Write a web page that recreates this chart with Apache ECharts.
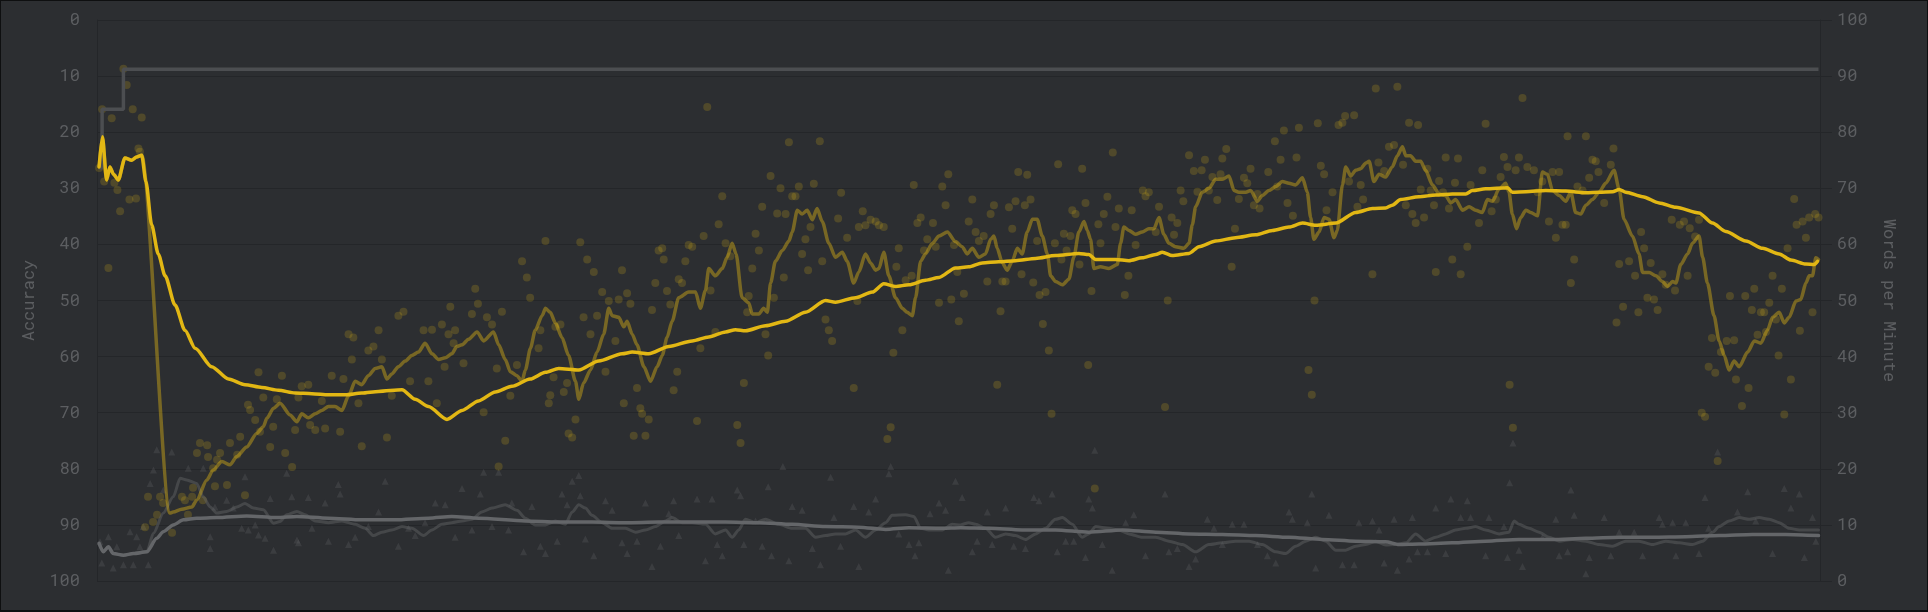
<!DOCTYPE html>
<html>
<head>
<meta charset="utf-8">
<script src="https://cdn.jsdelivr.net/npm/echarts@6/dist/echarts.min.js"></script>
<style>
html,body{margin:0;padding:0;background:#2c2e31;}
#wrap{position:relative;width:1928px;height:612px;}
#chart{position:absolute;left:0;top:0;width:1928px;height:612px;}
#frame{position:absolute;left:0;top:0;width:1928px;height:612px;box-sizing:border-box;border:1px solid #0e0f10;border-bottom-width:2px;pointer-events:none;}
</style>
</head>
<body>
<div id="wrap"><div id="chart"></div><div id="frame"></div></div>
<script>
// [test position, words per minute]
const wpmResults = [
[0.7,73.6],[1.7,84.1],[2.4,71.2],[3.8,55.8],[4.9,82.5],[5.8,71.0],[6.8,69.7],[7.7,65.9],[8.8,91.3],[9.9,88.4],[10.8,68.0],[11.9,84.1],[13.0,68.2],[13.8,77.1],[14.3,76.5],[14.9,82.6],
[16.0,9.6],[17.0,15.0],[18.7,10.5],[20.0,11.8],[21.0,15.0],[22.0,13.9],[25.0,8.6],[28.3,15.0],[29.3,14.4],[30.3,11.8],[31.7,15.0],[32.0,16.6],[33.3,22.8],[34.3,24.6],[35.3,14.4],[36.7,24.2],[37.0,22.1],[38.7,20.1],[39.3,16.9],[40.0,21.6],[41.0,22.8],[43.3,17.1],[44.3,24.6],[46.7,22.5],[47.7,25.7],[49.3,15.3],[50.3,31.4],[51.0,30.5],[52.7,28.7],[54.3,26.6],[57.7,23.9],[58.7,27.5],[62.7,22.8],[65.0,20.3],[66.0,26.9],
[53.8,37.2],[55.4,32.7],[59.9,32.4],[61.6,36.6],[67.1,32.7],[68.2,34.7],[70.4,35.0],[71.0,27.8],[72.7,26.9],[74.9,32.1],[76.0,27.2],[78.2,36.6],[81.0,26.6],[82.1,36.0],[83.8,44.0],[85.4,43.4],[84.9,39.5],[87.1,31.7],[88.2,24.0],[90.4,41.1],[92.1,41.8],[93.8,44.7],[94.9,39.5],[96.6,25.6],[98.2,33.0],[100.4,47.3],[102.1,48.0],[104.3,35.6],[108.8,44.7],[110.4,35.6],[111.6,44.8],[113.2,31.7],[114.9,45.7],[115.8,38.2],[117.1,44.0],[117.7,48.9],[119.3,44.7],[118.8,42.4],[122.1,38.8],[124.9,47.6],[126.0,52.1],[126.9,49.4],[128.8,30.1],[129.9,47.0],[131.6,45.7],[133.2,37.9],[134.9,48.0],[136.0,25.0],[133.8,20.4],[137.7,33.0],[139.9,38.5],[141.6,57.0],[143.2,54.1],[144.3,50.5],
[149.4,60.6],[147.7,44.7],[147.1,41.5],[152.7,45.3],[154.4,45.7],[151.0,33.1],[150.5,31.7],[155.5,33.7],[156.6,35.3],[152.1,36.3],[157.1,26.3],[158.3,25.6],[159.4,28.8],[161.0,60.4],[163.3,57.3],[165.5,55.1],[162.1,47.0],[164.4,44.0],[166.6,47.3],[168.3,51.5],[169.4,37.3],[170.5,49.9],[172.7,42.8],[173.8,50.2],[174.9,55.4],[176.6,51.3],[177.7,49.4],[175.5,31.7],[178.8,25.9],[179.9,34.4],[181.0,30.8],[181.6,29.8],[182.7,25.9],[183.8,28.8],[184.9,48.3],[186.0,53.1],[187.1,58.9],[188.3,59.3],[188.8,57.3],[189.9,51.7],[191.0,49.3],[192.1,34.0],[193.3,37.3],[193.8,53.8],[194.9,53.1],[196.0,57.0],[197.1,59.9],[198.3,59.6],[199.9,28.5],[201.0,41.5],[202.1,61.5],[203.3,84.5],[204.4,51.8],[206.0,44.4],[207.1,63.6],[208.3,68.6],[209.4,60.2],[211.0,57.9],[213.3,27.8],[214.4,24.6],[215.5,35.3],[216.6,47.9],[217.1,50.8],[218.3,55.7],[219.4,61.9],[220.5,58.9],[221.6,66.7],[222.7,44.0],[223.6,40.2],[224.4,72.2],[225.5,50.5],[226.6,65.5],[227.7,70.0],[228.8,54.1],[229.4,65.4],[230.5,78.2],[231.6,68.6],[232.7,68.6],[233.8,70.3],[234.9,58.3],[236.0,60.9],[236.9,55.4],[237.7,63.1],[238.8,70.8],[240.8,78.4],[241.6,57.0],[242.7,46.6],[243.8,44.7],[244.9,42.8],[246.9,64.6],[247.9,69.2],[249.9,61.2],[252.1,34.4],[253.3,49.9],[253.8,63.1],[255.1,65.9],[256.0,63.4],[257.7,64.4],[259.4,64.1],[260.5,63.4],[262.1,63.1],[263.3,25.3],[264.4,27.4],[265.3,40.7],[266.3,56.0],[267.1,59.3],[268.3,44.7],[269.4,53.6],[271.4,54.4],[272.1,70.6],[273.3,63.8],[274.4,64.8],[275.5,58.9],[276.6,60.9],[278.5,63.8],[279.4,59.6],[280.5,49.6],[281.6,70.3],[282.7,67.0],[283.6,72.5],[284.6,50.2],[285.5,59.9],[287.1,46.3],
[286.6,55.1],[288.8,51.2],[290.4,64.1],[291.6,68.0],[292.7,62.2],[293.8,60.6],[295.4,61.5],[296.6,53.4],[297.7,65.4],[298.8,67.0],[299.9,35.0],[301.0,48.1],[301.6,53.4],[302.7,53.4],[303.8,66.6],[304.9,62.8],[306.0,67.7],[306.9,72.9],[308.0,54.7],[309.1,67.0],[309.9,72.4],[311.0,68.0],[311.9,53.2],[313.2,60.6],[314.0,51.0],[315.1,45.8],[316.0,51.5],[317.1,41.1],[318.0,29.8],[319.1,60.2],[320.2,74.3],[321.3,57.3],[322.1,61.9],[323.0,58.9],[324.3,61.5],[324.9,66.1],[326.0,65.4],[327.3,56.4],[328.2,73.5],[329.3,67.4],[330.2,38.5],[331.3,51.7],[332.4,16.5],[333.6,63.6],[334.3,60.2],[335.4,65.4],[336.6,68.5],[338.4,76.4],[339.3,63.1],[340.4,66.4],[342.4,51.0],[343.6,54.4],[344.7,66.1],[346.0,59.9],[348.4,69.6],[349.3,68.6],[350.4,69.3],[352.7,62.2],[353.8,66.7],[355.8,31.0],[356.7,50.0],[358.0,64.8],[358.8,61.7],[359.9,63.8],[361.0,69.6],[361.9,67.7],[363.8,75.9],[365.4,73.1],[366.6,69.4],[368.0,73.2],[369.1,75.1],[370.4,69.6],[371.6,72.0],[373.2,67.9],[374.3,72.5],[374.9,75.3],[376.2,77.0],[378.0,56.0],[379.1,62.8],[380.4,68.1],[382.1,71.9],[383.2,70.9],[384.3,73.5],[385.4,67.0],[386.6,69.0],[387.3,66.4],[390.2,72.9],[392.4,78.4],[393.2,70.3],[394.3,75.1],[395.4,80.3],[396.6,67.4],[398.4,65.1],[399.6,75.5],[400.4,80.8],[403.6,37.6],[404.7,33.2],[405.6,50.0],[406.7,81.6],[407.7,74.0],[408.8,72.5],[409.6,66.1],[411.6,69.3],[413.6,81.3],[414.9,81.7],[415.8,82.9],[417.1,71.2],[418.8,83.0],[419.9,66.7],[421.0,70.6],[421.8,68.0],[424.9,54.7],[426.0,87.8],[426.9,74.6],[428.8,73.1],[430.4,77.4],
[432.1,77.7],[433.2,88.1],[435.1,74.2],[436.0,67.0],[437.1,81.7],[438.2,65.4],[439.3,63.8],[440.1,81.3],[441.0,69.8],[442.1,64.8],[443.2,73.5],[444.3,69.6],[445.4,67.0],[446.0,55.1],[447.1,71.3],[448.4,69.3],[449.3,75.5],[450.4,66.4],[451.5,57.3],[452.4,71.0],[453.4,75.3],[454.3,54.7],[456.5,59.6],[457.6,70.6],[460.4,63.8],[461.5,73.2],[462.6,81.5],[464.6,65.9],[466.0,68.0],[467.6,72.0],[468.7,75.6],[469.9,73.8],[470.6,35.0],[471.7,27.3],[472.6,73.2],[473.7,75.5],[474.9,86.1],[476.5,73.8],[478.7,73.2],[479.9,69.3],[481.5,71.2],[483.7,64.1],[484.9,72.9],[486.0,61.2],[487.1,72.9],[488.2,63.5],[489.3,63.5],[489.9,79.3],[491.0,53.1],[492.1,57.3],[493.2,70.3],[494.9,69.6],[496.0,79.3],[497.1,71.9],[498.2,75.1],[499.3,74.8],[500.2,72.9],[502.1,67.4],[504.3,74.2],[505.2,77.1],[506.2,46.1],[507.1,56.5],[508.4,48.9],[510.4,57.0],[512.4,54.4],[513.5,47.9],[514.4,62.2],[515.4,59.3],[516.5,50.5],[517.6,56.7],[518.7,50.2],[519.9,48.3],[521.5,54.7],[522.6,52.8],[524.6,64.4],[525.7,51.8],[527.3,63.5],[528.7,64.1],[529.9,54.4],[530.6,62.9],[532.4,61.4],[533.7,64.4],[534.6,30.0],[535.7,29.3],[536.9,38.2],[538.0,43.3],[539.1,37.1],[539.9,21.4],[541.0,40.8],[542.9,42.8],[544.0,50.8],[545.4,42.9],[546.0,35.9],[548.0,31.2],[549.1,50.8],[550.2,34.4],[551.3,48.3],[552.1,52.1],[553.2,43.9],[554.3,47.9],[555.4,47.9],[556.0,44.4],[557.1,49.6],[558.2,54.4],[559.3,46.6],[560.2,40.2],[561.3,52.1],[562.1,29.7],[563.2,59.3],[564.3,35.9],[565.4,68.1],[566.2,63.5],[567.3,44.6],[568.2,64.1],[569.3,61.2],[570.4,64.8],[571.5,47.9],[572.4,65.4],[573.5,64.8]
];

// [test position, accuracy %]
const accResults = [
[1,93.0],[3.8,92.1],[6.6,93.9],[1.6,96.8],[5.4,97.7],[8.8,97.1],[12.1,97.1],[11,91.2],[13.2,92.1],[14.3,93.9],[17.1,97.1],[15.4,90.3],[17.7,82.6],[18.8,80.2],[19.9,76.6],[24.9,77.0],[22.1,83.8],[30.4,79.9],[35.4,79.9],[37.7,92.1],[37.7,94.2],[39.3,86.8],[43.2,85.6],[45.4,87.0],[49.3,81.4],[48.2,90.6],[50.4,90.9],[52.7,90.0],[53.8,91.8],[56,92.4],[57.7,85.3],[58.8,94.5],[63.2,80.8],[64.9,85.0],[66.6,92.7],
[70.4,85.1],[76,86.1],[80.4,82.8],[81,84.5],[77.1,92.9],[83.8,93.5],[96,82.2],[100.4,93.8],[106,91.9],[112.7,86.1],[116,86.4],[121.6,83.5],[124.9,90.9],[127.7,84.5],[128.8,80.6],[131.6,90.3],[133.8,80.6],[137.1,90.9],[138.2,86.1],[142.1,94.8],[71.6,90.6],[86,92.2],[90.4,90.3],[93.8,87.7],[103.8,90.6],[109.3,89.6],[119.3,92.2],[67.1,93.2],
[144.9,86.7],[147.7,93.8],[149.4,95.1],[153.3,92.9],[154.9,84.5],[156.6,86.4],[158.3,82.2],[160.5,81.2],[161,84.8],[162.7,92.5],[165.5,95.5],[169.4,85.7],[171.6,87.4],[174.9,93.2],[176.6,95.1],[179.9,92.9],[182.7,86.1],[184.9,97.4],[187.7,93.8],[190.5,88.0],[192.1,85.7],[193.8,91.9],[199.9,85.4],[202.7,96.4],[204.9,85.4],[206.6,93.5],[208.3,95.5],[213.3,83.8],[214.4,84.8],[215.5,93.5],[219.4,89.3],[221.6,93.8],[223.6,83.2],[224.7,95.5],[228.5,79.6],[230.5,96.4],[231.6,86.7],[234.9,87.4],[238.3,94.2],[241,97.1],[244.4,81.5],[245.5,88.7],[247.7,93.8],[252.1,86.7],[253.8,97.4],[257.1,87.7],[259.4,85.4],[263.8,80.9],[264.4,79.6],[267.1,91.6],[270.5,93.5],[272.5,95.5],[273.8,93.2],[277.5,88.0],[280.5,86.1],[282.7,87.4],[283.6,98.1],[286,82.2],
[288.2,85.1],[291.6,94.8],[293.2,92.9],[296.6,87.7],[298.2,93.5],[302.7,87.0],[305.4,93.8],[309.3,94.2],[312.1,85.1],[313.8,85.7],[318.2,84.5],[319.9,94.8],[322.7,92.9],[325.4,92.9],[329.3,95.8],[330.4,85.4],[331.6,87.0],[332.4,76.7],[334.9,93.5],[338.2,98.1],[342.7,89.6],[345.4,88.2],[349.3,95.5],[355.8,84.5],[357.1,94.8],[359.9,94.2],[363.8,97.4],[366,96.1],[369.9,89.0],[372.1,90.6],[374.9,93.5],[378.2,89.9],[382.1,89.9],[386.6,93.5],[389.9,95.5],[392.7,96.8],[397.1,87.7],[398.2,89.0],[403.2,89.6],[404.7,84.5],[406,97.7],[410.4,88.3],[414.9,97.1],[418.8,97.1],[420.4,89.6],[424.9,89.3],[427.1,90.9],[428.8,96.8],
[432.1,89.0],[433.2,98.1],[437.1,96.1],[438.2,88.7],[439.9,94.8],[443.2,94.8],[446,87.0],[449.3,95.1],[451,85.4],[454.3,88.7],[456.5,85.7],[457.6,88.7],[462.6,95.5],[463.7,88.7],[468.7,90.3],[469.9,95.8],[470.6,82.5],[471.7,75.4],[473.7,94.5],[474.9,97.4],[481.5,92.2],[486,89.0],[487.1,95.5],[489.9,94.8],[491,83.8],[492.1,88.3],[496,98.7],[497.1,95.8],[502.1,88.7],[504.3,95.5],[507.1,91.3],[512.1,91.3],[514.9,95.5],[520.4,88.7],[521.5,89.9],[524.9,89.6],[526,95.5],[529.3,89.6],[533.7,95.1],[535.7,85.1],[536.9,90.6],[539.9,77.0],[546.5,87.7],[549.9,84.1],[552.6,89.3],[558.2,95.1],[562.1,83.5],[564.3,87.0],[567.1,84.5],[568.8,95.8],[571.5,88.7],[572.6,92.9]
];

// personal best (wpm)
const pbLine = [[0.7,73.6],[1.7,84.1],[8.8,91.2],[573.5,91.2]];

// moving averages
const wpmAvg10 = [
[0.7,73.8],[1.8,79.2],[3.2,71.5],[4.3,73.8],[5.5,72.5],[7.1,71.5],[9.3,75.4],[11.6,75.0],[13.2,75.6],[14.9,75.9],
[24.3,12.1],[25.4,12.3],[28.2,12.8],[31.6,13.2],[33.2,14.4],[36.6,18.0],[38.7,19.8],[41.6,21.3],[44.3,20.7],[46.6,22.2],[49.9,23.9],[53.2,26.3],[55.4,27.5],[56.6,29.0],[58.8,30.8],[61,31.7],[64.3,29.6],[66.6,28.4],
[68.2,29.8],[70.4,29.1],[72.7,29.8],[74.9,30.4],[77.1,31.1],[79.3,31.1],[81.6,30.4],[83.8,33.0],[86,35.6],[88.2,35.0],[90.4,36.6],[92.7,37.9],[94.9,38.2],[96.6,36.0],[98.2,36.9],[100.4,38.2],[102.7,39.2],[104.9,40.2],[107.1,40.8],[109.3,42.4],[111.6,40.5],[113.8,39.5],[116,39.8],[118.2,40.5],[119.9,41.8],[121.6,42.1],[123.8,43.1],[126.6,44.4],[128.8,42.8],[132.1,44.4],[133.8,42.1],[136,39.5],[137.7,37.3],[139.9,36.6],[141.6,35.6],
[142.7,37.6],[144.4,41.5],[146,44.7],[148.3,47.3],[149.4,48.6],[151,47.9],[152.7,46.0],[154.9,43.4],[157.1,40.2],[159.4,35.6],[160.5,32.4],[162.1,35.3],[164.4,37.6],[166.6,40.8],[168.8,44.0],[170.5,48.6],[171.6,47.3],[173.8,47.0],[175.5,45.3],[176.6,46.3],[178.3,44.0],[179.9,42.1],[182.2,38.2],[184.4,35.6],[186.6,38.2],[188.3,40.2],[189.9,43.4],[191.6,46.3],[193.8,50.5],[197.1,51.5],[199.4,51.5],[201,48.6],[202.7,51.8],[203.8,55.7],[206,54.4],[208.3,55.7],[209.9,57.7],[211.6,60.2],[212.9,58.3],[214.9,50.5],[217.1,49.6],[218.3,47.6],[220.5,47.6],[222.1,48.6],[223.3,47.9],[224.4,53.1],[226,57.0],[228.3,58.9],[230.5,60.6],[231.6,62.2],[233.3,66.1],[234.9,65.4],[236.6,66.1],[238.3,64.4],[239.9,66.4],[241.6,64.1],[243.8,60.2],[246,57.7],[248.3,58.6],[249.9,57.0],[252.1,53.1],[253.8,55.1],[256,58.3],[257.7,56.7],[259.4,55.4],[260.5,55.7],[262.1,58.6],[263.8,54.4],[266,50.5],[268.3,48.6],[269.9,47.9],[271.6,47.3],[272.7,50.5],[274.4,57.0],[276,58.3],[278.3,60.2],[280.5,61.5],[283.3,62.2],[286,60.5],
[288.2,59.6],[289.9,58.3],[291.6,59.3],[293.8,57.7],[296,58.3],[297.7,60.9],[298.8,61.5],[299.9,59.3],[301.6,56.7],[303.2,55.4],[304.9,57.0],[306.6,59.3],[308.2,58.3],[309.9,62.2],[311.6,64.5],[313.2,64.5],[314.9,61.5],[316.6,58.3],[317.7,54.4],[319.3,53.4],[321.6,52.8],[323.8,53.8],[325.4,57.7],[327.1,62.2],[328.8,64.1],[329.9,62.5],[331,60.9],[332.1,55.7],[334.3,56.0],[337.1,55.7],[339.9,56.4],[341,60.2],[342.1,63.1],[343.8,62.5],[346,61.8],[348.2,62.2],[350.4,62.8],[352.1,62.8],[353.8,64.8],[355.4,61.8],[357.1,60.2],[359.3,59.6],[362.1,59.3],[363.8,60.2],[364.9,63.5],[366,66.7],[368.2,69.3],[370.4,70.0],[372.7,71.6],[374.9,71.6],[377.1,72.2],[378.8,69.6],[380.4,69.3],[382.7,69.3],[384.3,69.6],[386.6,67.7],[388.2,68.7],[390.4,69.6],[392.7,70.3],[394.9,71.2],[397.1,70.9],[399.3,70.6],[401.6,71.9],[403.2,69.3],[404.3,64.8],[405.4,60.9],[407.1,62.2],[408.8,64.8],[410.4,64.5],[412.1,61.2],[413.2,62.5],[414.9,70.6],[416,73.8],[417.7,72.2],[419.3,73.2],[421,73.5],[422.7,74.5],[423.8,74.8],[425.4,71.2],[427.1,72.5],[429.3,72.0],
[431.5,73.8],[433.2,75.8],[434.9,77.4],[436,75.8],[437.6,75.8],[439.3,74.8],[441,74.8],[442.6,73.2],[444.9,70.6],[447.1,69.0],[449.3,68.7],[451,67.4],[452.6,68.0],[454.9,66.1],[457.1,66.7],[459.3,66.1],[461.5,65.7],[463.2,68.0],[464.9,67.7],[467.1,69.9],[469.3,70.9],[470.4,69.3],[471.5,65.4],[472.9,62.8],[474.3,64.8],[476,66.1],[477.6,65.7],[479.9,65.1],[481.5,72.9],[483.2,72.5],[484.9,69.6],[487.1,68.7],[489.3,67.7],[491,69.3],[492.6,65.7],[494.3,65.4],[496,67.0],[498.2,68.0],[500.4,69.3],[502.6,70.9],[505.4,73.2],[507.1,69.8],[508.7,64.5],[511.5,61.5],[513.7,58.3],[514.9,55.0],[517.1,55.0],[519.3,54.4],[521.5,53.4],[523.2,52.5],[524.9,53.4],[526,53.1],[527.6,56.4],[529.9,58.3],[531.5,60.2],[533.7,61.5],[534.9,57.7],[536.5,53.1],[538.7,47.3],[540.4,42.8],[542.1,40.2],[543.7,37.6],[545.4,39.2],[547.1,38.2],[549.9,40.8],[552.1,42.8],[554.3,42.4],[556.5,44.7],[558.2,47.0],[560.4,47.9],[562.1,46.0],[563.7,47.0],[566,49.9],[567.6,50.2],[569.3,53.1],[570.4,54.4],[571.5,54.4],[572.6,57.6],[573.5,57.3]
];

const wpmAvg100 = [
[0.7,73.8],[1.8,79.2],[3.2,71.5],[4.3,73.8],[5.5,72.5],[7.1,71.5],[9.3,75.4],[11.6,75.0],[13.2,75.6],[14.9,75.9],
[16.3,71.2],[18.2,63.5],[20.4,58.3],[22.7,54.4],[26,49.2],[29.3,44.7],[32.7,41.5],[38.2,38.2],[43.8,36.0],[49.3,35.0],[54.9,34.5],[60.4,34.0],[66,33.5],[71.6,33.4],[77.1,33.2],[82.7,33.2],[88.2,33.5],[93.8,33.8],[101.6,34.1],[106,32.4],[110.4,31.1],[116.6,28.8],[121.6,30.4],[127.1,32.1],[132.7,33.7],[138.2,34.7],[144.3,36.0],
[149.4,37.2],[153.8,37.9],[160.5,37.6],[167.1,39.2],[174.9,40.5],[178.3,40.8],[183.8,40.5],[190.5,41.8],[198.3,42.8],[203.8,43.5],[209.4,44.4],[212.7,44.8],[216,44.6],[222.7,45.5],[229.4,46.3],[236,47.9],[242.7,50.0],[246,49.7],[252.7,50.5],[258.3,51.5],[262.1,53.0],[266,52.5],[270.5,52.8],[276,53.6],[280.5,54.1],[286,55.8],
[290.4,56.0],[294.9,56.7],[300.4,56.9],[306,57.1],[312.7,57.5],[319.3,58.0],[327.1,58.4],[330.4,58.2],[332.7,57.3],[339.3,57.3],[343.8,57.1],[348.2,57.6],[352.7,58.2],[354.9,58.6],[358.2,58.0],[363.8,58.4],[367.1,59.6],[372.7,60.6],[379.3,61.2],[386,61.7],[391.6,62.5],[397.1,63.1],[401.6,63.8],[406,63.4],[412.7,63.8],[419.3,65.7],[424.9,66.4],[429.3,66.5],
[431.5,67.0],[434.3,68.0],[440.4,68.5],[446,68.8],[451.5,69.0],[456,69.0],[458.2,69.6],[462.6,69.9],[469.9,70.1],[471.5,69.3],[476,69.4],[482.6,69.6],[489.3,69.5],[496,69.2],[500.4,69.3],[504.9,69.4],[507.1,69.8],[509.3,69.3],[514.9,68.5],[520.4,67.4],[526,66.6],[533.7,65.6],[538.2,63.8],[542.6,62.3],[549.3,60.6],[554.9,59.3],[560.4,58.3],[564.3,57.2],[569.3,56.5],[572.1,56.4],[573.2,57.0]
];

const accAvg10 = [
[0.7,93.3],[2.1,94.8],[3.8,93.9],[5.4,95.1],[8.8,95.4],[12.1,95.1],[16.6,94.8],[18.8,91.5],[22.1,87.9],[25.4,85.0],[27.7,81.7],[29.9,82.0],[33.2,82.6],[35.4,85.0],[37.7,86.8],[39.9,87.9],[43.2,87.6],[46.6,86.8],[49.3,86.2],[52.1,87.0],[55.4,87.3],[58.8,89.7],[61,89.4],[63.2,88.2],[66.6,87.6],
[69.3,88.2],[72.7,89.3],[77.1,89.6],[81.6,89.3],[86,89.9],[89.3,90.6],[92.1,91.9],[94.9,91.3],[98.2,90.9],[101.6,90.3],[104.9,90.6],[108.8,91.9],[111.6,90.9],[114.9,89.9],[118.2,89.6],[121.6,89.3],[124.9,89.0],[128.2,87.7],[131.6,87.0],[136,86.4],[139.9,87.4],[142.7,88.8],
[146,90.0],[149.4,90.0],[152.7,89.3],[156,89.9],[158.3,87.7],[160.5,86.4],[162.7,87.0],[164.9,88.3],[168.3,89.6],[171.6,90.6],[176,90.6],[179.4,91.3],[182.7,90.9],[186,90.3],[189.4,89.3],[191.6,88.7],[194.9,89.6],[198.3,89.6],[202.7,89.9],[206,91.6],[209.4,90.9],[211.6,92.2],[213.8,90.9],[216,89.0],[219.4,89.6],[222.7,89.0],[227.1,89.9],[231.6,90.6],[236,90.6],[239.4,92.2],[242.7,91.9],[246,91.6],[249.4,91.6],[252.7,90.9],[256,92.2],[259.4,90.9],[262.7,89.6],[264.9,88.3],[269.4,88.2],[272.1,88.5],[274.4,90.6],[277.1,90.9],[281.6,90.9],[284.9,89.9],[287.7,90.0],
[290.4,89.6],[292.7,89.9],[296,90.6],[299.3,92.2],[302.7,91.6],[306,91.9],[309.3,92.6],[312.7,91.6],[316,90.6],[319.3,89.0],[321.6,88.7],[324.9,89.9],[328.2,92.2],[330.4,91.6],[332.7,90.3],[337.1,90.6],[340.4,90.9],[343.8,91.6],[348.2,92.2],[352.7,92.2],[357.1,92.9],[361.6,93.5],[366,94.8],[370.4,93.5],[374.9,93.2],[379.3,92.9],[383.8,92.9],[388.2,93.5],[392.7,94.8],[396,95.1],[399.3,93.8],[402.7,92.9],[406,92.2],[409.3,92.9],[412.7,94.5],[416,94.5],[419.3,93.8],[422.7,93.5],[426,92.9],[429.3,93.6],
[432.6,93.5],[436,93.2],[439.3,91.6],[442.6,92.9],[446,92.2],[449.3,91.6],[452.6,90.9],[456,90.6],[459.3,90.3],[462.6,90.9],[467.1,91.6],[470.4,91.3],[472.1,89.3],[473.7,89.9],[477.1,90.6],[480.4,91.3],[483.7,92.2],[487.1,92.9],[491.5,92.6],[496,92.9],[500.4,93.5],[504.9,93.8],[509.3,92.9],[513.7,92.9],[518.2,93.5],[522.6,92.9],[527.1,93.2],[531.5,93.5],[534.9,92.9],[538.2,91.3],[540.4,90.3],[543.7,89.3],[547.1,88.7],[550.4,89.0],[553.7,88.7],[557.1,89.0],[560.4,89.6],[563.7,90.6],[567.1,90.9],[570.4,90.9],[573.5,90.9]
];

const accAvg100 = [
[0.7,93.3],[2.1,94.8],[3.8,93.9],[5.4,95.1],[8.8,95.4],[12.1,95.1],[16.6,94.8],[19.9,92.4],[22.1,91.2],[25.4,90.0],[28.8,89.1],[33.2,88.8],[39.9,88.7],[49.9,88.4],[59.9,88.7],[66.6,88.5],[77.1,88.8],[88.2,89.1],[99.3,89.1],[110.4,88.8],[118.2,88.5],[127.1,88.8],[142.7,89.3],
[153.8,89.5],[164.9,89.5],[176,89.6],[187.1,89.5],[198.3,89.5],[209.4,89.5],[220.5,89.6],[231.6,89.9],[242.7,90.3],[253.8,90.4],[262.7,90.8],[270.5,90.5],[281.6,90.6],[287.7,90.5],
[297.1,90.6],[308.2,90.9],[319.3,90.9],[330.4,91.3],[341.6,90.9],[352.7,91.3],[363.8,91.6],[374.9,91.7],[386,91.9],[397.1,92.2],[408.2,92.6],[419.3,92.9],[429.3,93.0],
[433.7,93.5],[440.4,93.4],[451.5,93.2],[462.6,92.9],[473.7,92.6],[484.9,92.6],[496,92.4],[507.1,92.2],[518.2,92.2],[529.3,92.1],[540.4,91.9],[551.5,91.7],[562.6,91.7],[573.5,91.9]
];

const gold = '#e2b714';
const sub = '#646669';
const gridColor = '#242629';
const labelColor = '#5c5e61';
const monoFont = '"Roboto Mono","DejaVu Sans Mono",monospace';

const chart = echarts.init(document.getElementById('chart'), null, {renderer: 'canvas'});

function avgLine(name, data, color, width, yIdx, z) {
  return {
    name, type: 'line', data, yAxisIndex: yIdx, showSymbol: false, symbol: 'none',
    smooth: 0.25, smoothMonotone: 'x', silent: true, z,
    lineStyle: {color, width, cap: 'round', join: 'round'}
  };
}

chart.setOption({
  backgroundColor: '#2c2e31',
  animation: false,
  grid: {left: 97, right: 108, top: 20, bottom: 31, containLabel: false},
  xAxis: {
    type: 'value', min: 0, max: 574,
    axisLine: {show: false}, axisTick: {show: false}, axisLabel: {show: false}, splitLine: {show: false}
  },
  yAxis: [
    {
      type: 'value', inverse: true, min: 0, max: 100, interval: 10, position: 'left',
      name: 'Accuracy', nameLocation: 'middle', nameGap: 60, nameRotate: 90,
      nameTextStyle: {color: labelColor, fontFamily: monoFont, fontSize: 17},
      axisLine: {show: true, lineStyle: {color: gridColor, width: 1}},
      axisTick: {show: false},
      axisLabel: {color: labelColor, fontFamily: monoFont, fontSize: 17, margin: 17},
      splitLine: {show: false}
    },
    {
      type: 'value', min: 0, max: 100, interval: 10, position: 'right',
      name: 'Words per Minute', nameLocation: 'middle', nameGap: 60, nameRotate: -90,
      nameTextStyle: {color: labelColor, fontFamily: monoFont, fontSize: 17},
      axisLine: {show: true, lineStyle: {color: gridColor, width: 1}},
      axisTick: {show: true, length: 12, lineStyle: {color: gridColor, width: 1}},
      axisLabel: {color: labelColor, fontFamily: monoFont, fontSize: 17, margin: 17},
      splitLine: {show: true, lineStyle: {color: gridColor, width: 1}}
    }
  ],
  series: [
    {
      name: 'accuracy', type: 'scatter', yAxisIndex: 0, data: accResults, symbol: 'triangle', symbolSize: 7,
      itemStyle: {color: 'rgba(100,102,105,0.35)'}, silent: true, z: 1
    },
    {
      name: 'wpm', type: 'scatter', yAxisIndex: 1, data: wpmResults, symbol: 'circle', symbolSize: 8,
      itemStyle: {color: 'rgba(226,183,20,0.25)'}, silent: true, z: 2
    },
    avgLine('acc avg10', accAvg10, 'rgba(100,102,105,0.45)', 3, 0, 3),
    avgLine('acc avg100', accAvg100, sub, 3.5, 0, 4),
    avgLine('wpm avg10', wpmAvg10, 'rgba(226,183,20,0.42)', 3.5, 1, 5),
    {
      name: 'pb', type: 'line', data: pbLine, yAxisIndex: 1, step: 'end', showSymbol: false, symbol: 'none',
      silent: true, z: 5, lineStyle: {color: '#4c4e51', width: 3.5}
    },
    avgLine('wpm avg100', wpmAvg100, gold, 3.5, 1, 6)
  ]
});
</script>
</body>
</html>
